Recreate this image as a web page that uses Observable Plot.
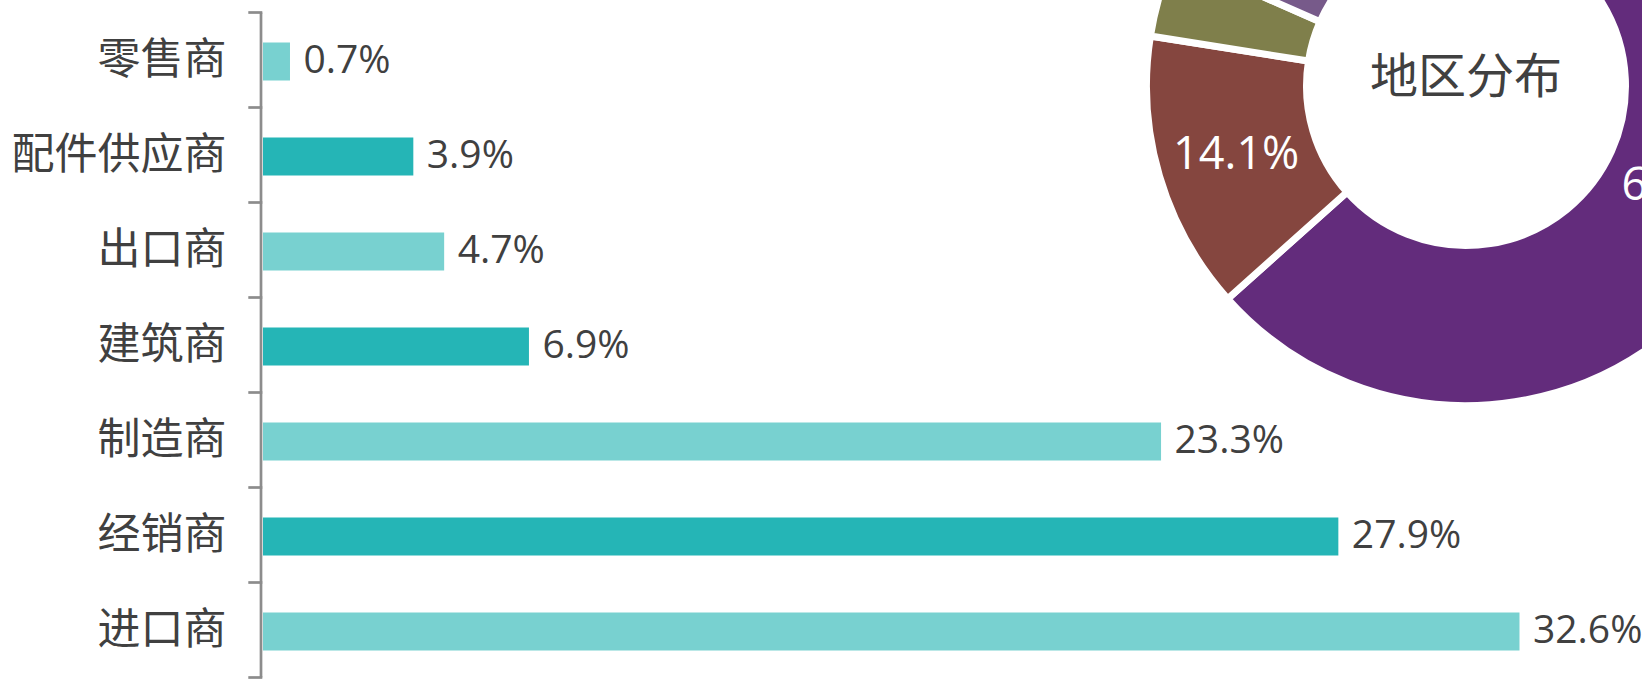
<!DOCTYPE html>
<html><head><meta charset="utf-8">
<script src="https://cdn.jsdelivr.net/npm/d3@7"></script>
<script src="https://cdn.jsdelivr.net/npm/@observablehq/plot@0.6"></script>
<style>
html,body{margin:0;padding:0;background:#fff;overflow:hidden;}
#chart{width:1642px;height:680px;position:relative;}
</style></head><body><div id="chart"></div>
<script>
// Bar chart data
const categories = ["零售商","配件供应商","出口商","建筑商","制造商","经销商","进口商"];
const shares = [0.7, 3.9, 4.7, 6.9, 23.3, 27.9, 32.6];
const barColors = ["#78D1D0", "#25B5B6"];

// Donut data (only part of it is visible in the picture)
const regionKeys = ["r1","r2","r3","r4","r5","r6"];
const regionShares = [63.4, 14.1, 4.1, 4.0, 7.0, 7.4];
const regionColors = ["#632C7C","#85463F","#7F7F4B","#775A8A","#4F81BD","#C0504D"];
const donutTitle = "地区分布";

const FONT = "'Open Sans','Noto Sans CJK SC',sans-serif";
const TEXT = "#404040";
const bars = categories.map((c, i) => ({category: c, share: shares[i], tone: i % 2}));
const regions = regionKeys.map((k, i) => ({key: k, share: regionShares[i], color: regionColors[i]}));

function axisAndDonut(index, scales, values, dimensions) {
  const g = d3.create("svg:g");
  // category axis: line with ticks at band boundaries
  const y = scales.y, x = scales.x;
  const step = y.step(), bw = y.bandwidth();
  const ax = x(0) - 2;
  const bounds = categories.map(c => y(c) - (step - bw) / 2);
  bounds.push(y(categories[categories.length - 1]) + bw + (step - bw) / 2);
  g.append("line").attr("x1", ax).attr("x2", ax)
    .attr("y1", bounds[0]).attr("y2", bounds[bounds.length - 1])
    .attr("stroke", "#8C8C8C").attr("stroke-width", 2.7);
  for (const b of bounds) {
    g.append("line").attr("x1", ax - 12.7).attr("x2", ax + 1.3)
      .attr("y1", b).attr("y2", b)
      .attr("stroke", "#8C8C8C").attr("stroke-width", 2.7);
  }
  // donut
  const cx = 1466, cy = 86, rIn = 163, rOut = 316, gap = 7;
  const pie = d3.pie().sort(null).value(d => d.share).startAngle(0).endAngle(2 * Math.PI);
  const arcs = pie(regions);
  const arc = d3.arc().innerRadius(rIn - gap / 2).outerRadius(rOut + gap / 2);
  const dg = g.append("g").attr("transform", `translate(${cx},${cy})`);
  dg.selectAll("path").data(arcs).join("path")
    .attr("d", arc).attr("fill", d => d.data.color)
    .attr("stroke", "white").attr("stroke-width", gap).attr("stroke-linejoin", "miter");
  const labelArc = d3.arc().innerRadius(rIn).outerRadius(rOut);
  dg.selectAll("text.v").data(arcs.filter(d => d.data.share >= 10)).join("text")
    .attr("class", "v")
    .attr("transform", d => `translate(${labelArc.centroid(d)})`)
    .attr("text-anchor", "middle").attr("dy", "0.35em")
    .attr("fill", "white").attr("font-size", 45).attr("font-family", FONT)
    .text(d => d.data.share.toFixed(1) + "%");
  dg.append("text").attr("x", 0).attr("y", -10.5)
    .attr("text-anchor", "middle").attr("dy", "0.36em")
    .attr("fill", TEXT).attr("font-size", 48).attr("font-family", FONT)
    .text(donutTitle);
  return g.node();
}

const chart = Plot.plot({
  width: 1642,
  height: 680,
  marginLeft: 263,
  marginRight: 30,
  marginTop: 11,
  marginBottom: 2,
  style: {fontFamily: FONT, background: "white", overflow: "visible"},
  x: {domain: [0, 35], axis: null},
  y: {domain: categories, paddingInner: 0.6, paddingOuter: 0.3, axis: null},
  marks: [
    Plot.barX(bars, {y: "category", x: "share", fill: d => barColors[d.tone], dy: 1.5}),
    Plot.text(bars, {y: "category", x: "share", text: d => d.share.toFixed(1) + "%",
      textAnchor: "start", dx: 13, fontSize: 39, fill: TEXT}),
    Plot.axisY({tickSize: 0, tickPadding: 37, fontSize: 43, fill: TEXT, label: null}),
    axisAndDonut
  ]
});
document.getElementById("chart").appendChild(chart);
</script>
</body></html>
